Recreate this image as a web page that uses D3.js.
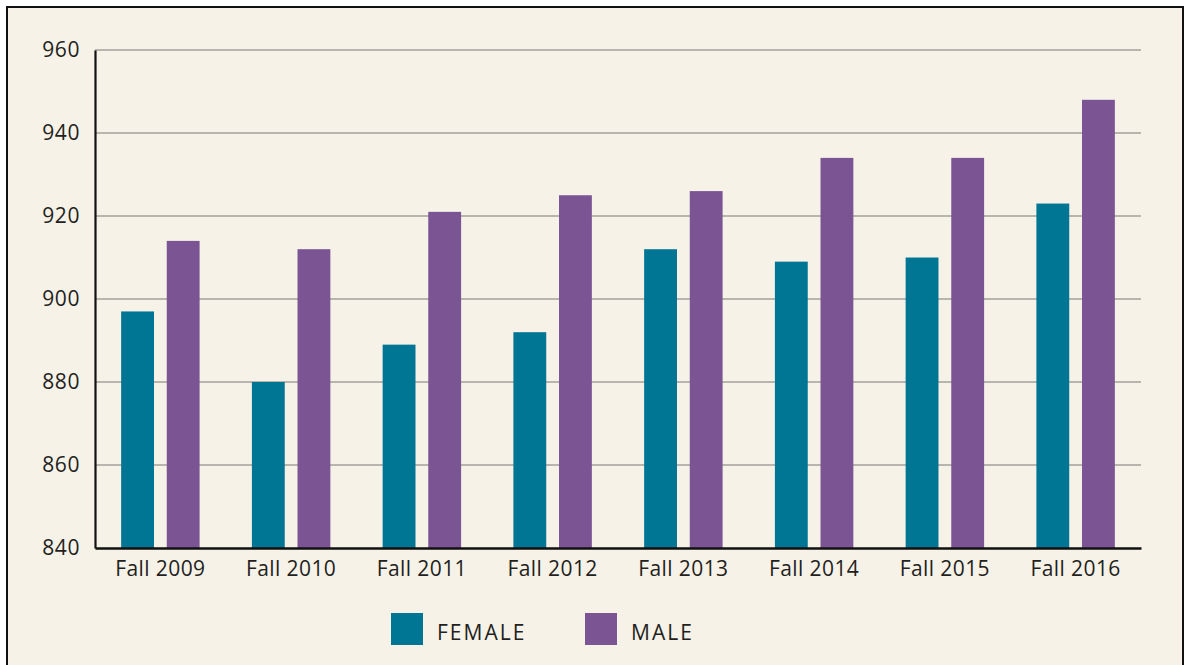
<!DOCTYPE html>
<html>
<head>
<meta charset="utf-8">
<script src="https://cdn.jsdelivr.net/npm/d3@7"></script>
<style>
  html, body { margin: 0; padding: 0; background: #ffffff; }
  svg { display: block; }
  text { font-family: "Open Sans", sans-serif; fill: #231f20; }
</style>
</head>
<body>
<svg id="chart" width="1185" height="665"></svg>
<script>
const categories = ["Fall 2009", "Fall 2010", "Fall 2011", "Fall 2012", "Fall 2013", "Fall 2014", "Fall 2015", "Fall 2016"];
const seriesNames = ["FEMALE", "MALE"];
const femaleValues = [897, 880, 889, 892, 912, 909, 910, 923];
const maleValues = [914, 912, 921, 925, 926, 934, 934, 948];
const yTicks = [840, 860, 880, 900, 920, 940, 960];
const colors = ["#007594", "#7b5494"];

const svg = d3.select("#chart");
const W = 1185, H = 665;
const margin = { left: 95, right: 44, top: 50, bottom: 117 };
const plotRight = W - margin.right; // 1141
const plotBottom = H - margin.bottom; // 548

svg.append("rect").attr("x", 0).attr("y", 0).attr("width", W).attr("height", H).attr("fill", "#ffffff");
svg.append("rect").attr("x", 7).attr("y", 7).attr("width", 1176).attr("height", 720)
  .attr("fill", "#f6f2e8").attr("stroke", "#111").attr("stroke-width", 2);

const x0 = d3.scaleBand().domain(categories).range([margin.left, plotRight]).paddingInner(0.4).paddingOuter(0.2);
const x1 = d3.scaleBand().domain(seriesNames).range([0, x0.bandwidth()]).paddingInner(0.28);
const y = d3.scaleLinear().domain([840, 960]).range([plotBottom, margin.top]);

// gridlines
svg.append("g").selectAll("line").data(yTicks.filter(t => t !== 840)).join("line")
  .attr("x1", margin.left).attr("x2", plotRight)
  .attr("y1", d => y(d)).attr("y2", d => y(d))
  .attr("stroke", "#a3a19c").attr("stroke-width", 1.6);

// bars
const data = categories.map((c, i) => ({ cat: c, vals: [femaleValues[i], maleValues[i]] }));
const groups = svg.append("g").selectAll("g").data(data).join("g")
  .attr("transform", d => `translate(${x0(d.cat)},0)`);
groups.selectAll("rect").data(d => d.vals.map((v, j) => ({ s: seriesNames[j], v, j }))).join("rect")
  .attr("x", d => x1(d.s)).attr("width", x1.bandwidth())
  .attr("y", d => y(d.v)).attr("height", d => plotBottom - y(d.v))
  .attr("fill", d => colors[d.j]);

// y axis
const yAxis = d3.axisLeft(y).tickValues(yTicks).tickSize(0).tickPadding(15).tickFormat(d3.format("d"));
const gy = svg.append("g").attr("transform", `translate(${margin.left},0)`).call(yAxis);
gy.select(".domain").attr("stroke", "#111").attr("stroke-width", 2.2);
gy.selectAll("text").attr("font-size", 21).attr("letter-spacing", "0.6px")
  .attr("font-family", "'Open Sans', sans-serif").attr("fill", "#231f20");

// x axis
const xAxis = d3.axisBottom(x0).tickSize(0).tickPadding(13);
const gx = svg.append("g").attr("transform", `translate(0,${plotBottom})`).call(xAxis);
gx.select(".domain").attr("stroke", "#111").attr("stroke-width", 2.5);
gx.selectAll("text").attr("font-size", 21).attr("letter-spacing", "0.4px")
  .attr("font-family", "'Open Sans', sans-serif").attr("fill", "#231f20");

// legend
const legendX = [391, 585];
const legend = svg.append("g").selectAll("g").data(seriesNames).join("g")
  .attr("transform", (d, i) => `translate(${legendX[i]},613)`);
legend.append("rect").attr("width", 32).attr("height", 32).attr("fill", (d, i) => colors[i]);
legend.append("text").attr("x", 46).attr("y", 27).attr("font-size", 21).attr("letter-spacing", "2px")
  .text(d => d);
</script>
</body>
</html>
